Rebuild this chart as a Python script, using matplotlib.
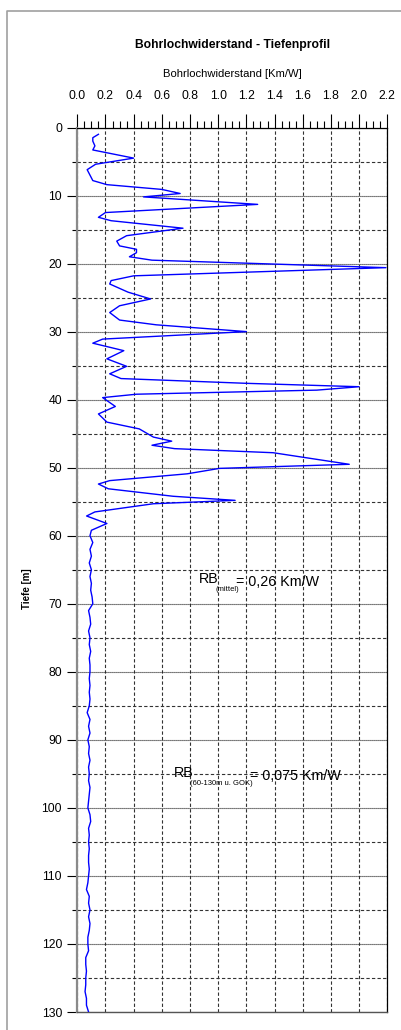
import matplotlib
matplotlib.use("Agg")
import matplotlib.pyplot as plt
from matplotlib.ticker import MultipleLocator, FormatStrFormatter
from matplotlib.lines import Line2D

plt.rcParams['font.family'] = ['Liberation Sans', 'DejaVu Sans']

# Borehole resistance profile: depth [m] and resistance [Km/W]
depth = [1.0, 1.5, 2.0, 2.7, 3.3, 4.5, 5.4, 6.2, 7.8, 8.4, 9.1, 9.7, 10.2, 11.3,
         12.5, 13.2, 13.7, 14.8, 15.9, 16.7, 17.4, 17.9, 18.4, 19.0, 19.5, 20.6,
         21.8, 22.5, 23.0, 24.2, 25.2, 26.2, 27.2, 28.3, 29.0, 30.0, 31.1, 31.7,
         32.8, 34.0, 35.1, 36.2, 36.9, 37.6, 38.1, 38.6, 39.2, 39.7, 41.0, 42.1,
         43.3, 44.3, 45.5, 46.1, 46.7, 47.2, 47.8, 49.5, 50.1, 50.9, 51.9, 52.4,
         53.1, 54.2, 54.8, 55.3, 56.5, 57.1, 58.2, 59.2,
         60, 61, 62, 63, 64, 65, 66, 67, 68, 69, 70, 71, 72, 73, 74, 75, 76, 77,
         78, 79, 80, 81, 82, 83, 84, 85, 86, 87, 88, 89, 90, 91, 92, 93, 94, 95,
         96, 97, 98, 99, 100, 101, 102, 103, 104, 105, 106, 107, 108, 109, 110,
         111, 112, 113, 114, 115, 116, 117, 118, 119, 120, 121, 122, 123, 124,
         125, 126, 127, 128, 129, 130]
resistance = [0.15, 0.11, 0.11, 0.125, 0.11, 0.40, 0.13, 0.07, 0.11, 0.21, 0.60, 0.73, 0.47, 1.28,
              0.20, 0.15, 0.24, 0.75, 0.35, 0.28, 0.30, 0.42, 0.42, 0.37, 0.53, 2.19,
              0.40, 0.24, 0.23, 0.36, 0.52, 0.30, 0.23, 0.30, 0.56, 1.20, 0.18, 0.11,
              0.33, 0.21, 0.35, 0.23, 0.31, 1.20, 2.00, 1.70, 0.42, 0.18, 0.27, 0.15,
              0.21, 0.44, 0.54, 0.67, 0.53, 0.69, 1.39, 1.93, 1.01, 0.78, 0.23, 0.15,
              0.22, 0.68, 1.12, 0.54, 0.125, 0.066, 0.21, 0.10,
              0.09, 0.11, 0.09, 0.10, 0.085, 0.10, 0.09, 0.10, 0.095, 0.105, 0.11, 0.08, 0.09, 0.095, 0.08, 0.09, 0.085, 0.095,
              0.085, 0.09, 0.09, 0.085, 0.09, 0.085, 0.09, 0.085, 0.07, 0.09, 0.08, 0.09, 0.075, 0.085, 0.08, 0.09, 0.08, 0.085,
              0.08, 0.09, 0.085, 0.08, 0.075, 0.09, 0.095, 0.08, 0.085, 0.08, 0.085, 0.08, 0.08, 0.085, 0.08,
              0.075, 0.065, 0.085, 0.08, 0.09, 0.08, 0.09, 0.085, 0.075, 0.075, 0.08, 0.06, 0.06, 0.065,
              0.06, 0.06, 0.055, 0.065, 0.065, 0.08]

title = "Bohrlochwiderstand - Tiefenprofil"
x_label = "Bohrlochwiderstand [Km/W]"
y_label = "Tiefe [m]"
mean_total = "0,26"
mean_deep = "0,075"

fig = plt.figure(figsize=(4.02, 10.30), dpi=100)
W, H = 402.0, 1030.0
ax = fig.add_axes([77.3 / W, 1 - 1012.0 / H, (387.3 - 77.3) / W, (1012.0 - 127.5) / H])

ax.plot(resistance, depth, color='#0000ff', lw=1.0, zorder=3)

ax.set_xlim(0, 2.2)
ax.set_ylim(130, 0)

# x axis on top
ax.xaxis.set_ticks_position('top')
ax.xaxis.set_label_position('top')
ax.xaxis.set_major_locator(MultipleLocator(0.2))
ax.xaxis.set_minor_locator(MultipleLocator(0.05))
ax.xaxis.set_major_formatter(FormatStrFormatter('%.1f'))
ax.tick_params(axis='x', which='major', direction='out', length=10, width=0.8,
               pad=8.5, labelsize=8.8, color='black')
ax.tick_params(axis='x', which='minor', direction='out', length=5, width=0.8, color='black')

ax.yaxis.set_major_locator(MultipleLocator(10))
ax.yaxis.set_minor_locator(MultipleLocator(5))
ax.tick_params(axis='y', which='major', direction='out', length=7.2, width=0.8,
               pad=3.8, labelsize=8.8, color='black')
ax.tick_params(axis='y', which='minor', direction='out', length=3.4, width=0.8, color='black')

# grid: dashed verticals, dotted 10 m lines, dashed 5 m lines
ax.xaxis.grid(True, which='major', color='#333333', lw=0.8, ls=(0, (3, 2)))
ax.yaxis.grid(True, which='major', color='#222222', lw=0.8, ls=(0, (1, 0.8)))
ax.yaxis.grid(True, which='minor', color='#333333', lw=0.8, ls=(0, (3, 2)))
ax.set_axisbelow(True)

ax.spines['left'].set_color('#8a8a8a')
ax.spines['left'].set_linewidth(1.6)
ax.spines['bottom'].set_color('#555555')
ax.spines['bottom'].set_linewidth(1.0)
ax.spines['top'].set_color('black')
ax.spines['top'].set_linewidth(0.9)
ax.spines['right'].set_color('black')
ax.spines['right'].set_linewidth(0.9)

ax.set_xlabel(x_label, fontsize=8.1, labelpad=9)
fig.text(232.3 / W, 1 - 45.0 / H, title, fontsize=8.7, fontweight='bold',
         ha='center', va='center')
fig.text(27.0 / W, 1 - 589.0 / H, y_label, rotation=90, fontsize=7, fontweight='bold',
         ha='center', va='center')

# mean value annotations
ann_fs = 10.3
def mean_note(x, y, sub, value):
    t1 = ax.text(x, y, "RB", fontsize=ann_fs, ha='left', va='baseline', zorder=5)
    t2 = ax.annotate(sub, xy=(1, 0), xycoords=t1, xytext=(-2.5, -0.5), textcoords='offset points',
                     fontsize=5.5, ha='left', va='top', zorder=5)
    ax.annotate("= " + value + " Km/W", xy=(1, 0), xycoords=(t2, t1), xytext=(-2, 0),
                textcoords='offset points', fontsize=ann_fs, ha='left', va='baseline', zorder=5)

mean_note(0.864, 66.9, "(mittel)", mean_total)
mean_note(0.687, 95.4, "(60-130m u. GOK)", mean_deep)

# outer chart frame
fig.add_artist(Line2D([7.3 / W, 7.3 / W, 1.0], [0.0, 1 - 10.5 / H, 1 - 10.5 / H],
                      transform=fig.transFigure, color='#a0a0a0', lw=1.2))

fig.savefig("out.png", dpi=100)
